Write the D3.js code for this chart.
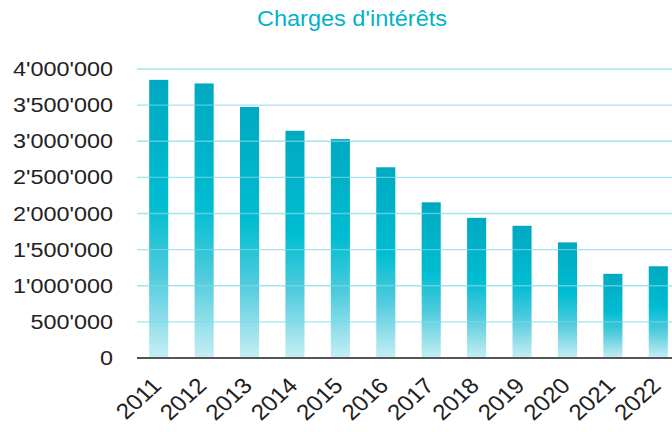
<!DOCTYPE html>
<html><head><meta charset="utf-8">
<script src="https://cdn.jsdelivr.net/npm/d3@7"></script>
<style>body{margin:0;background:#fff;} svg{display:block;}</style>
</head><body>
<svg id="c" width="672" height="432"></svg>
<script>
const title = "Charges d'intérêts";
const years = ["2011","2012","2013","2014","2015","2016","2017","2018","2019","2020","2021","2022"];
const values = [3850000,3800000,3475000,3145000,3030000,2640000,2155000,1940000,1830000,1600000,1165000,1270000];
const yTicks = [0,500000,1000000,1500000,2000000,2500000,3000000,3500000,4000000];

const svg = d3.select("#c");
const x = d3.scaleBand().domain(years).range([136, 681]).paddingInner(0.58).paddingOuter(0.29);
const y = d3.scaleLinear().domain([0, 4000000]).range([358, 69]);
const fmt = d3.formatLocale({thousands:"'", grouping:[3], decimal:".", currency:["",""]}).format(",");

const defs = svg.append("defs");
const g = defs.append("linearGradient").attr("id","bg").attr("x1",0).attr("y1",0).attr("x2",0).attr("y2",1);
[[0,"#00a9c1"],[0.45,"#00bdd2"],[0.7,"#4ecbdd"],[1,"#c6eef4"]].forEach(s=>g.append("stop").attr("offset",s[0]).attr("stop-color",s[1]));

// title
svg.append("text").attr("transform","translate(352,26) scale(1.07,1)")
  .attr("text-anchor","middle").attr("font-family","Liberation Sans, Arial, sans-serif")
  .attr("font-size",22).attr("fill","#00b3c9").text(title);

// bars
svg.append("g").selectAll("rect").data(years).join("rect")
  .attr("x", d=>x(d)).attr("width", x.bandwidth())
  .attr("y", (d,i)=>y(values[i])).attr("height",(d,i)=>y(0)-y(values[i]))
  .attr("fill","url(#bg)");

// gridlines
svg.append("g").selectAll("line").data(yTicks.filter(t=>t>0)).join("line")
  .attr("x1",137).attr("x2",672).attr("y1",d=>y(d)).attr("y2",d=>y(d))
  .attr("stroke","#7fd8e6").attr("stroke-opacity",0.7).attr("stroke-width",1.3);

// baseline
svg.append("line").attr("x1",137).attr("x2",672).attr("y1",y(0)).attr("y2",y(0))
  .attr("stroke","#555").attr("stroke-width",2);

// y labels
svg.append("g").selectAll("text").data(yTicks).join("text")
  .attr("transform", d=>`translate(113,${y(d)}) scale(1.2,1)`)
  .attr("dy","0.36em").attr("text-anchor","end")
  .attr("font-family","Liberation Sans, Arial, sans-serif").attr("font-size",19.5).attr("fill","#222")
  .text(d=>fmt(d));

// x labels
svg.append("g").selectAll("text").data(years).join("text")
  .attr("transform", d=>`translate(${x(d)+x.bandwidth()/2+4},387) scale(1.1,1) rotate(-45)`)
  .attr("text-anchor","end")
  .attr("font-family","Liberation Sans, Arial, sans-serif").attr("font-size",22).attr("fill","#222")
  .text(d=>d);
</script>
</body></html>
